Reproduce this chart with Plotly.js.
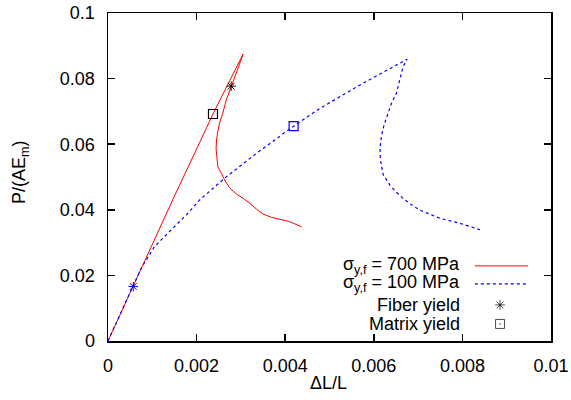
<!DOCTYPE html>
<html>
<head>
<meta charset="utf-8">
<script src="https://cdn.plot.ly/plotly-3.0.1.min.js"></script>
<style>html,body{margin:0;padding:0;background:#fff;}#chart{width:571px;height:400px;}</style>
</head>
<body>
<div id="chart"></div>
<script>
// sigma_y,f = 700 MPa curve
const x700 = [0, 0.00073, 0.00146, 0.00237, 0.00272, 0.00305, 0.00292, 0.00278, 0.00267, 0.00259, 0.00252, 0.00248, 0.00245, 0.00244, 0.00245, 0.00248, 0.00256, 0.00263, 0.00275, 0.00290, 0.00305, 0.00320, 0.00335, 0.00350, 0.00369, 0.00388, 0.00410, 0.00437];
const y700 = [0, 0.0215, 0.0430, 0.0692, 0.0785, 0.0875, 0.0826, 0.0777, 0.0735, 0.0694, 0.0666, 0.0640, 0.0613, 0.0585, 0.0562, 0.0531, 0.0511, 0.0491, 0.0466, 0.0448, 0.0435, 0.0420, 0.0402, 0.0387, 0.0377, 0.0371, 0.0364, 0.0348];
// sigma_y,f = 100 MPa curve
const x100 = [0, 0.00057, 0.00075, 0.00105, 0.00143, 0.00180, 0.00207, 0.00263, 0.00335, 0.00419, 0.00478, 0.00576, 0.00675, 0.00666, 0.00651, 0.00640, 0.00632, 0.00623, 0.00617, 0.00614, 0.00615, 0.00621, 0.00636, 0.00650, 0.00666, 0.00684, 0.00704, 0.00726, 0.00749, 0.00794, 0.00843];
const y100 = [0, 0.0166, 0.0222, 0.0288, 0.0338, 0.0389, 0.0430, 0.0496, 0.0572, 0.0655, 0.0709, 0.0786, 0.0859, 0.0836, 0.0755, 0.0725, 0.0694, 0.0658, 0.0623, 0.0587, 0.0552, 0.0508, 0.0476, 0.0455, 0.0435, 0.0416, 0.0399, 0.0386, 0.0374, 0.0359, 0.0338];
// yield points [700 MPa, 100 MPa]
const fiberYieldX = [0.00278, 0.00057];
const fiberYieldY = [0.0777, 0.0166];
const matrixYieldX = [0.00237, 0.00419];
const matrixYieldY = [0.0692, 0.0655];
const yieldColors = ['#000000', '#0000ff'];
// ticks
const xTicks = [0, 0.002, 0.004, 0.006, 0.008, 0.01];
const xTickText = ['0', '0.002', '0.004', '0.006', '0.008', '0.01'];
const yTicks = [0, 0.02, 0.04, 0.06, 0.08, 0.1];
const yTickText = ['0', '0.02', '0.04', '0.06', '0.08', '0.1'];
const legendLabels = ['σ<sub>y,f</sub> = 700 MPa', 'σ<sub>y,f</sub> = 100 MPa', 'Fiber yield', 'Matrix yield'];

const FONT = {family: 'Liberation Sans, Arial, sans-serif', size: 18, color: '#000'};

const traces = [
  {x: x700, y: y700, mode: 'lines', line: {color: '#ff0000', width: 1}, hoverinfo: 'skip'},
  {x: x100, y: y100, mode: 'lines', line: {color: '#0000ff', width: 1.2, dash: 'dot'}, hoverinfo: 'skip'},
  {x: fiberYieldX, y: fiberYieldY, mode: 'markers',
   marker: {symbol: 'asterisk-open', size: 8, color: yieldColors, line: {color: yieldColors, width: 1}}},
  {x: matrixYieldX, y: matrixYieldY, mode: 'markers',
   marker: {symbol: 'square-open', size: 9, color: yieldColors, line: {color: yieldColors, width: 1.2}}},
  // legend sample markers (overlay axes in [0,1])
  {x: [0.885, 0.885], y: [0.110, 0.052], xaxis: 'x2', yaxis: 'y2', mode: 'markers',
   marker: {symbol: ['asterisk-open', 'square-open-dot'], size: [8, 9], color: '#000', line: {color: '#000', width: 1}}}
];

const legendRows = [0.229, 0.174, 0.110, 0.052];
const annotations = legendLabels.map((t, i) => ({
  text: t, xref: 'paper', yref: 'paper', x: 0.799, y: legendRows[i],
  xanchor: 'right', yanchor: 'middle', showarrow: false, font: FONT
}));
annotations.push({text: 'ΔL/L', xref: 'paper', yref: 'paper', x: 0.497, y: -0.128,
  xanchor: 'center', yanchor: 'middle', showarrow: false, font: FONT});
annotations.push({text: 'P/(AE<sub>m</sub>)', xref: 'paper', yref: 'paper', x: -0.199, y: 0.515,
  xanchor: 'center', yanchor: 'middle', textangle: -90, showarrow: false, font: FONT});

const shapes = [
  {type: 'line', xref: 'paper', yref: 'paper', x0: 0.828, x1: 0.948, y0: legendRows[0], y1: legendRows[0],
   line: {color: '#ff0000', width: 1}},
  {type: 'line', xref: 'paper', yref: 'paper', x0: 0.828, x1: 0.948, y0: legendRows[1], y1: legendRows[1],
   line: {color: '#0000ff', width: 1.2, dash: 'dot'}}
];

const axisCommon = {
  showgrid: false, zeroline: false, showline: true, linecolor: '#000', linewidth: 1.5,
  mirror: 'ticks', ticks: 'inside', ticklen: 7, tickwidth: 1.5, tickcolor: '#000',
  tickfont: FONT, tickmode: 'array'
};

const layout = {
  width: 571, height: 400,
  margin: {l: 108, r: 20, t: 13, b: 59},
  paper_bgcolor: '#fff', plot_bgcolor: '#fff',
  showlegend: false,
  font: FONT,
  xaxis: Object.assign({}, axisCommon, {range: [0, 0.01], tickvals: xTicks, ticktext: xTickText, ticklabelstandoff: 8}),
  yaxis: Object.assign({}, axisCommon, {range: [0, 0.1], tickvals: yTicks, ticktext: yTickText, ticklabelstandoff: 8}),
  xaxis2: {overlaying: 'x', anchor: 'y2', range: [0, 1], visible: false, fixedrange: true},
  yaxis2: {overlaying: 'y', anchor: 'x2', range: [0, 1], visible: false, fixedrange: true},
  annotations: annotations,
  shapes: shapes
};

Plotly.newPlot('chart', traces, layout, {staticPlot: true});
</script>
</body>
</html>
